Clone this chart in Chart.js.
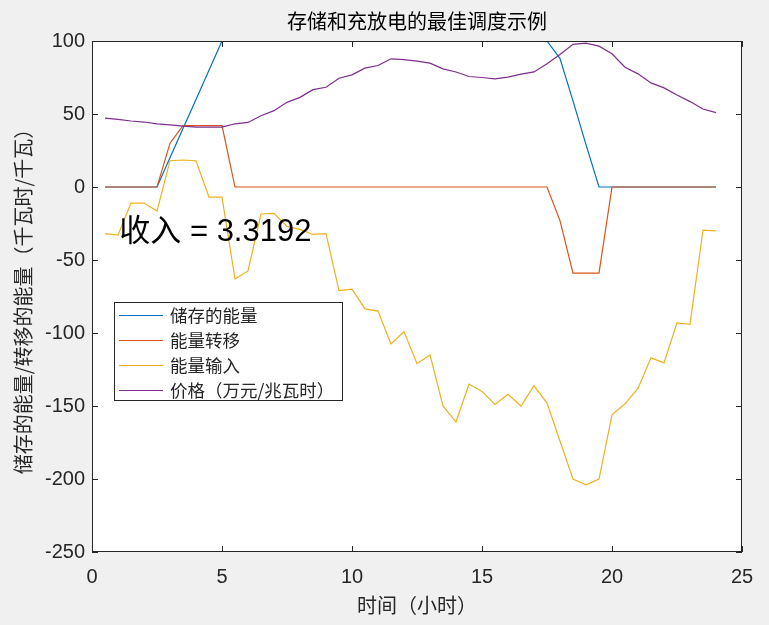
<!DOCTYPE html>
<html>
<head>
<meta charset="utf-8">
<title>存储和充放电的最佳调度示例</title>
<script src="https://cdn.jsdelivr.net/npm/chart.js@4/dist/chart.umd.min.js"></script>
<style>
  html, body { margin: 0; padding: 0; background: #f0f0f0; }
  #wrap { width: 769px; height: 625px; }
</style>
</head>
<body>
<div id="wrap"><canvas id="scheduleChart" width="769" height="625"></canvas></div>
<script>
const hours = [0.5, 1, 1.5, 2, 2.5, 3, 3.5, 4, 4.5, 5, 5.5, 6, 6.5, 7, 7.5, 8, 8.5, 9, 9.5, 10, 10.5, 11, 11.5, 12,
               12.5, 13, 13.5, 14, 14.5, 15, 15.5, 16, 16.5, 17, 17.5, 18, 18.5, 19, 19.5, 20, 20.5, 21, 21.5, 22, 22.5, 23, 23.5, 24];

const storedEnergy = [0, 0, 0, 0, 0, 20, 40, 60, 80, 100, 100, 100, 100, 100, 100, 100, 100, 100, 100, 100, 100, 100, 100, 100,
                      100, 100, 100, 100, 100, 100, 100, 100, 100, 100, 100, 88, 59, 29, 0, 0, 0, 0, 0, 0, 0, 0, 0, 0];
const transferEnergy = [0, 0, 0, 0, 0, 30, 42, 42, 42, 42, 0, 0, 0, 0, 0, 0, 0, 0, 0, 0, 0, 0, 0, 0,
                        0, 0, 0, 0, 0, 0, 0, 0, 0, 0, 0, -23, -59, -59, -59, 0, 0, 0, 0, 0, 0, 0, 0, 0];
const inputEnergy = [-32, -33, -11, -11, -16.5, 18, 18.5, 18, -7, -7, -63, -57.5, -18.5, -18, -27, -29, -32.5, -32, -71, -70, -83.5, -85, -107.5, -99,
                     -121, -115, -150, -161, -135, -140, -149, -142, -150, -136, -148, -174, -200, -204, -200, -156, -148.5, -138, -117, -120.5, -93, -94, -29.5, -30];
const price = [47.2, 46.3, 45.2, 44.5, 43.3, 42.6, 41.7, 41, 41, 41, 43.3, 44.2, 48.8, 52.3, 58, 61.4, 66.7, 68.3, 74.5, 76.8, 81.4, 83.2, 87.8, 87.3,
               86.2, 84.8, 80.9, 78.8, 75.7, 75, 74.1, 75.2, 77.3, 78.8, 84.4, 90.8, 97.7, 98.6, 96.5, 91.2, 82, 77.5, 71.3, 67.9, 63, 58.5, 53.4, 50.9];

const seriesNames = ['储存的能量', '能量转移', '能量输入', '价格（万元/兆瓦时）'];
const seriesColors = ['#0072BD', '#D95319', '#EDB120', '#7E2F8E'];
const xTicks = [0, 5, 10, 15, 20, 25];
const yTicks = [-250, -200, -150, -100, -50, 0, 50, 100];

const chartTitle = '存储和充放电的最佳调度示例';
const revenueText = '收入 = 3.3192';

const axisColor = '#262626';
const cjk = '"Noto Sans CJK SC", "Noto Sans", sans-serif';
const num = '"Liberation Sans", Arial, "Noto Sans CJK SC", sans-serif';

const toPoints = values => values.map((v, i) => ({ x: hours[i], y: v }));

// figure background, white axes, box frame with inward ticks, title, text and legend
const matlabLook = {
    id: 'matlabLook',
    beforeDraw(chart) {
        const { ctx, chartArea: a } = chart;
        ctx.save();
        ctx.fillStyle = '#f0f0f0';
        ctx.fillRect(0, 0, chart.width, chart.height);
        ctx.fillStyle = '#ffffff';
        ctx.fillRect(a.left, a.top, a.right - a.left, a.bottom - a.top);
        ctx.restore();
    },
    afterDraw(chart) {
        const { ctx, chartArea: a, scales } = chart;
        ctx.save();
        ctx.strokeStyle = axisColor;
        ctx.lineWidth = 1;
        ctx.strokeRect(a.left + 0.5, a.top + 0.5, a.right - a.left - 1, a.bottom - a.top - 1);
        ctx.beginPath();
        xTicks.forEach(v => {
            const px = Math.round(scales.x.getPixelForValue(v)) + 0.5;
            ctx.moveTo(px, a.bottom); ctx.lineTo(px, a.bottom - 6);
            ctx.moveTo(px, a.top); ctx.lineTo(px, a.top + 6);
        });
        yTicks.forEach(v => {
            const py = Math.round(scales.y.getPixelForValue(v)) + 0.5;
            ctx.moveTo(a.left, py); ctx.lineTo(a.left + 6, py);
            ctx.moveTo(a.right, py); ctx.lineTo(a.right - 6, py);
        });
        ctx.stroke();

        // title over the axes
        ctx.fillStyle = '#000000';
        ctx.font = '20px ' + cjk;
        ctx.textAlign = 'center';
        ctx.textBaseline = 'middle';
        ctx.fillText(chartTitle, (a.left + a.right) / 2, 21);

        // revenue text placed in data units
        ctx.font = '31px ' + num;
        ctx.textAlign = 'left';
        ctx.fillText(revenueText, scales.x.getPixelForValue(1.05), scales.y.getPixelForValue(-31));

        // legend box
        const lx = 114, ly = 302, lw = 228, lh = 98;
        ctx.fillStyle = '#ffffff';
        ctx.fillRect(lx, ly, lw, lh);
        ctx.strokeStyle = axisColor;
        ctx.strokeRect(lx + 0.5, ly + 0.5, lw, lh);
        ctx.font = '17.5px ' + cjk;
        chart.data.datasets.forEach((ds, i) => {
            const ry = ly + 13 + i * 25;
            ctx.strokeStyle = ds.borderColor;
            ctx.lineWidth = 1.2;
            ctx.beginPath();
            ctx.moveTo(lx + 5, ry + 0.5);
            ctx.lineTo(lx + 49, ry + 0.5);
            ctx.stroke();
            ctx.fillStyle = axisColor;
            ctx.fillText(ds.label, lx + 56, ry);
        });
        ctx.restore();
    }
};

window.onload = () => {
    new Chart(document.getElementById('scheduleChart').getContext('2d'), {
        type: 'line',
        data: {
            datasets: [storedEnergy, transferEnergy, inputEnergy, price].map((vals, i) => ({
                label: seriesNames[i],
                data: toPoints(vals),
                borderColor: seriesColors[i],
                backgroundColor: seriesColors[i],
                borderWidth: 1.2,
                pointRadius: 0,
                tension: 0,
                fill: false,
                order: seriesNames.length - i   // later series drawn on top, as in MATLAB
            }))
        },
        options: {
            responsive: false,
            animation: false,
            layout: { padding: { top: 41, right: 27, left: 0, bottom: 0 } },
            plugins: { legend: { display: false }, title: { display: false }, tooltip: { enabled: false } },
            scales: {
                x: {
                    type: 'linear',
                    min: 0, max: 25,
                    afterFit: s => { s.height = 73; },
                    afterBuildTicks: s => { s.ticks = xTicks.map(v => ({ value: v })); },
                    grid: { display: false, drawTicks: false },
                    border: { display: false },
                    ticks: { color: axisColor, font: { family: num, size: 20 }, padding: 13, maxRotation: 0 },
                    title: { display: true, text: '时间（小时）', color: axisColor, font: { family: cjk, size: 20 }, padding: { bottom: 8 } }
                },
                y: {
                    type: 'linear',
                    min: -250, max: 100,
                    afterFit: s => { s.width = 92; },
                    afterBuildTicks: s => { s.ticks = yTicks.map(v => ({ value: v })); },
                    grid: { display: false, drawTicks: false },
                    border: { display: false },
                    ticks: { color: axisColor, font: { family: num, size: 20 }, padding: 7 },
                    title: { display: true, text: '储存的能量/转移的能量（千瓦时/千瓦）', color: axisColor, font: { family: cjk, size: 20 }, padding: { top: 11 } }
                }
            }
        },
        plugins: [matlabLook]
    });
};
</script>
</body>
</html>
